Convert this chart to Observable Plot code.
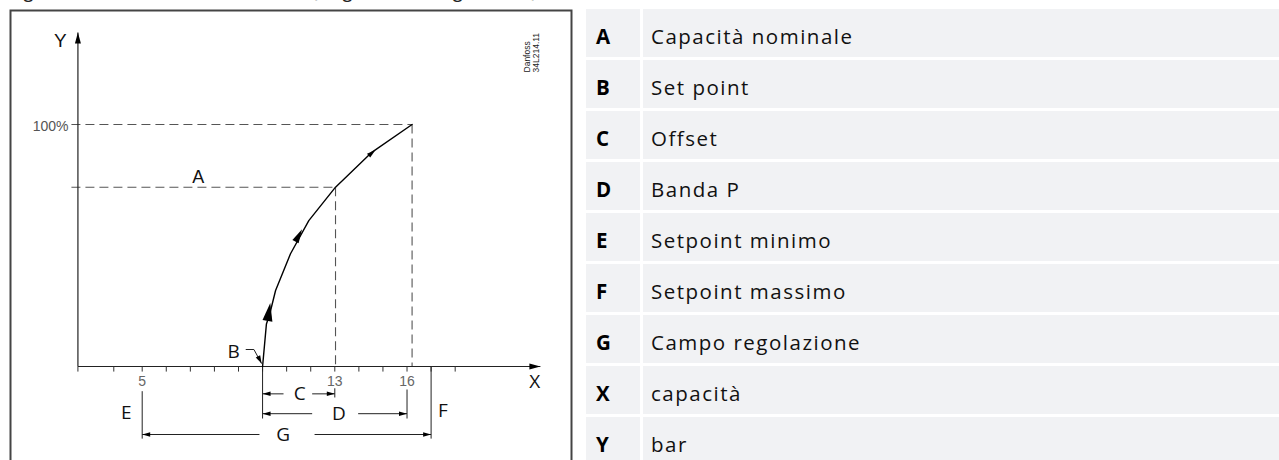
<!DOCTYPE html>
<html>
<head>
<meta charset="utf-8">
<script src="https://cdn.jsdelivr.net/npm/d3@7"></script>
<script src="https://cdn.jsdelivr.net/npm/@observablehq/plot@0.6"></script>
<style>
  html, body { margin: 0; padding: 0; background: #fff; width: 1279px; height: 460px; overflow: hidden; }
  #title { position: absolute; left: 10px; top: -18px; font: 600 17px "Open Sans", sans-serif; line-height: 20px; color: #222; white-space: nowrap; }
  #chart { position: absolute; left: 0; top: 0; }
  #legend { position: absolute; left: 586px; top: 9px; width: 693px; }
  .row { display: flex; height: 48px; margin-bottom: 3px; }
  .key { width: 54px; box-sizing: border-box; padding: 3px 0 0 10px; background: #f1f2f4; font: 700 20.5px "Open Sans", sans-serif; line-height: 48px; color: #000; }
  .lab { flex: 1; margin-left: 3px; box-sizing: border-box; padding: 3px 0 0 8px; background: #f1f2f4; font: 400 20.5px "Open Sans", sans-serif; letter-spacing: 1.5px; line-height: 48px; color: #111; white-space: nowrap; }
</style>
</head>
<body>
<div id="title">Figura 8: Controllo del condensatore (diagramma di regolazione)</div>
<div id="chart"></div>
<div id="legend"></div>
<script>
// ---- data ----
const curveX = [10, 10.16, 10.3, 10.54, 11.16, 11.92, 13.03, 14.55, 16.21];
const curveY = [0, 17.6, 21.8, 31.4, 46.6, 60.3, 74.1, 88.6, 100];

const axisOrigin = 2.33;      // x value where the Y axis stands
const xAxisEnd = 21.54;       // arrow tip of X axis
const yAxisEnd = 138;         // arrow tip of Y axis
const tickValues = [2.33, 3.82, 5, 6, 7, 8, 9, 10, 11, 12, 13, 14, 15, 16, 17, 18];
const tickLabelValues = [5, 13, 16];
const tickLabels = ["5", "13", "16"];

const nominalLevel = 74.1;    // A
const fullLevel = 100;        // 100%
const setpoint = 10;          // B
const offsetEnd = 13;         // C end
const bandEnd = 16;           // D end
const curveEndX = 16.21;
const minSetpoint = 5;        // E
const maxSetpoint = 17;       // F

const legendKeys = ["A", "B", "C", "D", "E", "F", "G", "X", "Y"];
const legendLabels = ["Capacità nominale", "Set point", "Offset", "Banda P", "Setpoint minimo", "Setpoint massimo", "Campo regolazione", "capacità", "bar"];

// ---- derived tables ----
const curve = curveX.map((x, i) => ({x, y: curveY[i]}));
const dashStart = 2.06;
const dashed = [
  {x1: dashStart, y1: fullLevel, x2: curveEndX, y2: fullLevel},
  {x1: dashStart, y1: nominalLevel, x2: 13.03, y2: nominalLevel},
  {x1: 13.03, y1: nominalLevel, x2: 13.03, y2: 0},
  {x1: curveEndX, y1: fullLevel, x2: curveEndX, y2: 0}
];
const axes = [
  {x1: axisOrigin, y1: 0, x2: axisOrigin, y2: yAxisEnd},
  {x1: axisOrigin, y1: 0, x2: xAxisEnd, y2: 0}
];
const ticks = tickValues.map(v => ({x1: v, y1: 0, x2: v, y2: -2.1}));
const cRow = -11.3, dRow = -19.5, gRow = -28.1;
const dims = [
  {x1: setpoint, y1: 0, x2: setpoint, y2: -21.5},
  {x1: setpoint, y1: cRow, x2: 10.87, y2: cRow},
  {x1: 12.06, y1: cRow, x2: offsetEnd, y2: cRow},
  {x1: offsetEnd, y1: -9, x2: offsetEnd, y2: -12.8},
  {x1: setpoint, y1: dRow, x2: 12.06, y2: dRow},
  {x1: 13.97, y1: dRow, x2: bandEnd, y2: dRow},
  {x1: bandEnd, y1: -9.5, x2: bandEnd, y2: -21.5},
  {x1: minSetpoint, y1: -10.2, x2: minSetpoint, y2: -29.8},
  {x1: maxSetpoint, y1: 0, x2: maxSetpoint, y2: -29.8},
  {x1: minSetpoint, y1: gRow, x2: 9.87, y2: gRow},
  {x1: 12.16, y1: gRow, x2: maxSetpoint, y2: gRow},
  {x1: 9.30, y1: 7.02, x2: 9.64, y2: 7.02},
  {x1: 9.64, y1: 7.02, x2: 9.96, y2: 1.2}
];

// arrowhead symbol: tip at origin, pointing up
const head = (L, W) => ({draw(ctx) { ctx.moveTo(0, 0); ctx.lineTo(W / 2, L); ctx.lineTo(-W / 2, L); ctx.closePath(); }});
const axisHeads = [{x: axisOrigin, y: yAxisEnd, a: 0}, {x: xAxisEnd, y: 0, a: 90}];
const dimHeads = [
  {x: setpoint, y: cRow, a: -90}, {x: offsetEnd, y: cRow, a: 90},
  {x: setpoint, y: dRow, a: -90}, {x: bandEnd, y: dRow, a: 90},
  {x: minSetpoint, y: gRow, a: -90}, {x: maxSetpoint, y: gRow, a: 90}
];
const leaderHead = [{x: 9.96, y: 1.2, a: 153}];
const bigHead = [{x: 10.32, y: 26.2, a: 9}];
const midHead = [{x: 11.64, y: 56.7, a: 28}];
const smallHead = [{x: 14.69, y: 89.5, a: 50}];

const letters = [
  {t: "B", x: 8.8, y: 5.9}, {t: "C", x: 11.54, y: cRow}, {t: "D", x: 13.17, y: dRow},
  {t: "E", x: 4.34, y: -19.0}, {t: "F", x: 17.49, y: -18.2}, {t: "G", x: 10.85, y: gRow},
  {t: "X", x: 21.3, y: -6.5}
];
const tickText = tickLabelValues.map((v, i) => ({x: v, y: -6.2, t: tickLabels[i]}));

const arrowDot = (data, L, W) => Plot.dot(data, {x: "x", y: "y", rotate: "a", r: 3, symbol: head(L, W), fill: "#000", stroke: "none"});

const chart = Plot.plot({
  width: 580, height: 480,
  marginLeft: 10, marginRight: 9, marginTop: 10, marginBottom: 0,
  x: {domain: [5, 13], range: [141.7, 334.3], axis: null},
  y: {domain: [0, 100], range: [366, 124], axis: null},
  style: {background: "transparent", overflow: "visible"},
  marks: [
    Plot.frame({stroke: "#444", strokeWidth: 2}),
    Plot.link(dashed, {x1: "x1", y1: "y1", x2: "x2", y2: "y2", stroke: "#555", strokeWidth: 1.1, strokeDasharray: "9,5"}),
    Plot.link(axes, {x1: "x1", y1: "y1", x2: "x2", y2: "y2", stroke: "#222", strokeWidth: 1.2}),
    Plot.link(ticks, {x1: "x1", y1: "y1", x2: "x2", y2: "y2", stroke: "#333", strokeWidth: 1}),
    Plot.link(dims, {x1: "x1", y1: "y1", x2: "x2", y2: "y2", stroke: "#222", strokeWidth: 1}),
    Plot.line(curve, {x: "x", y: "y", stroke: "#000", strokeWidth: 1.4}),
    arrowDot(axisHeads, 11, 6),
    arrowDot(dimHeads, 8, 4.5),
    arrowDot(leaderHead, 8, 5),
    arrowDot(bigHead, 18, 10),
    arrowDot(midHead, 14, 7),
    arrowDot(smallHead, 9, 5),
    Plot.text(tickText, {x: "x", y: "y", text: "t", fontFamily: "Liberation Sans", fontSize: 14, fill: "#666"}),
    Plot.text(["100%"], {x: 1.94, y: 99.3, text: d => d, textAnchor: "end", fontFamily: "Liberation Sans", fontSize: 14, fill: "#555"}),
    Plot.text(["Y"], {x: 1.6, y: 134.6, text: d => d, fontFamily: "Liberation Sans", fontSize: 19, fill: "#111"}),
    Plot.text(["A"], {x: 7.33, y: 78.4, text: d => d, fontFamily: "Liberation Sans", fontSize: 18, fill: "#111"}),
    Plot.text(letters, {x: "x", y: "y", text: "t", fontFamily: "Open Sans", fontSize: 19, fill: "#111"}),
    Plot.text(["Danfoss\n34L214.11"], {x: 21.19, y: 121.5, text: d => d, rotate: -90, textAnchor: "start", lineAnchor: "middle", fontFamily: "Liberation Sans", fontSize: 8.5, fill: "#222"})
  ]
});
document.getElementById("chart").append(chart);

const legend = document.getElementById("legend");
legendKeys.forEach((k, i) => {
  const row = document.createElement("div");
  row.className = "row";
  const key = document.createElement("div");
  key.className = "key";
  key.textContent = k;
  const lab = document.createElement("div");
  lab.className = "lab";
  lab.textContent = legendLabels[i];
  row.append(key, lab);
  legend.append(row);
});
</script>
</body>
</html>
